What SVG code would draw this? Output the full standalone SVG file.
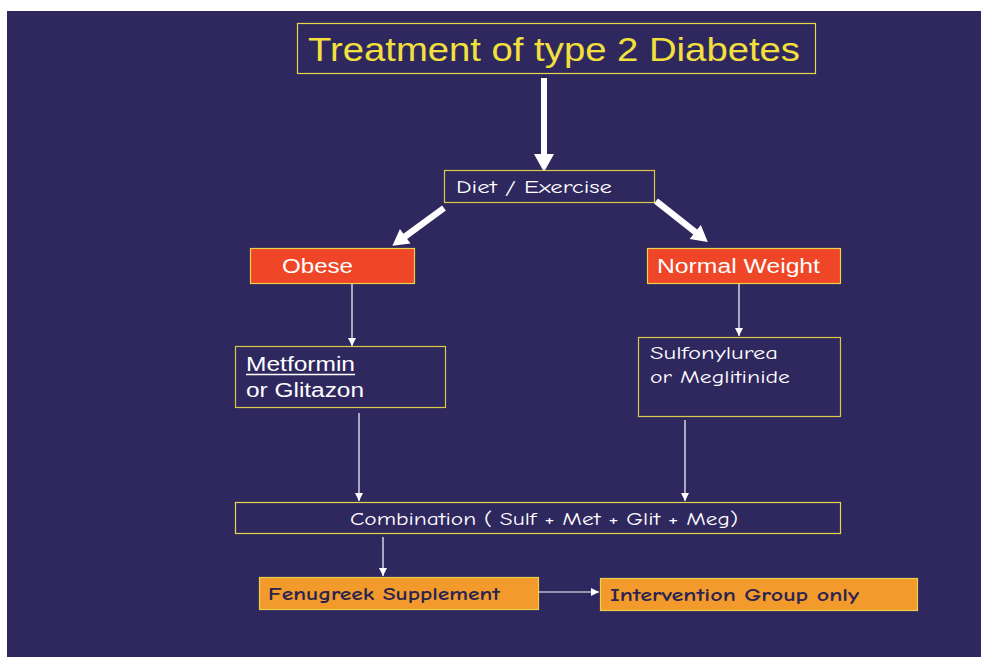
<svg xmlns="http://www.w3.org/2000/svg" width="981" height="657" viewBox="0 0 981 657">
  <style>
    .box { fill: #2f285f; stroke: #d9c948; stroke-width: 1.2; }
    .red { fill: #ef4628; stroke: #e8d34a; stroke-width: 1.2; }
    .orange { fill: #f39a2d; stroke: #e8d34a; stroke-width: 1.2; }
    .title { font-family: "Liberation Sans", Arial, sans-serif; font-size: 33px; fill: #f4e03c; }
    .sans { font-family: "Liberation Sans", Arial, sans-serif; font-size: 20px; fill: #ffffff; }
    .comic { font-family: "Comic Sans MS", "Comic Neue", "DejaVu Sans", sans-serif; font-size: 19px; fill: #ffffff; }
    .comicb { font-family: "Comic Sans MS", "Comic Neue", "DejaVu Sans", sans-serif; font-size: 19px; font-weight: bold; fill: #2a2350; }
    .thin { stroke: #ffffff; stroke-width: 1.2; fill: none; marker-end: url(#small); }
    .thick { fill: #ffffff; }
  </style>
  <defs>
    <marker id="small" viewBox="0 0 10 10" refX="10" refY="5" markerWidth="8" markerHeight="8" markerUnits="userSpaceOnUse" orient="auto">
      <path d="M0,0 L10,5 L0,10 z" fill="#ffffff"/>
    </marker>
  </defs>

  <!-- page background -->
  <rect x="0" y="0" width="981" height="657" fill="#ffffff"/>
  <rect x="7" y="11" width="974" height="646" fill="#2f285f"/>

  <!-- connectors -->
  <g id="connectors">
    <!-- heavy arrows -->
    <path class="thick" d="M541,78 L547,78 L547,154 L554,154 L544,172 L534,154 L541,154 z"/>
    <g transform="translate(444,208) rotate(143.8)">
      <path class="thick" d="M0,-3.2 L48,-3.2 L48,-9 L64,0 L48,9 L48,3.2 L0,3.2 z"/>
    </g>
    <g transform="translate(656,201) rotate(38.3)">
      <path class="thick" d="M0,-3.2 L50,-3.2 L50,-9 L66,0 L50,9 L50,3.2 L0,3.2 z"/>
    </g>
    <!-- thin arrows -->
    <line class="thin" x1="352" y1="284" x2="352" y2="346"/>
    <line class="thin" x1="739" y1="284" x2="739" y2="336"/>
    <line class="thin" x1="359" y1="413" x2="359" y2="501"/>
    <line class="thin" x1="685" y1="420" x2="685" y2="501"/>
    <line class="thin" x1="383" y1="537" x2="383" y2="576"/>
    <line class="thin" x1="539" y1="592" x2="599" y2="592"/>
  </g>

  <g id="title">
    <rect class="box" x="297.5" y="23.5" width="518" height="50" style="stroke:#e9d84a"/>
    <text class="title" x="308" y="61" textLength="492" lengthAdjust="spacingAndGlyphs">Treatment of type 2 Diabetes</text>
  </g>

  <g id="diet">
    <rect class="box" x="444.5" y="170.5" width="210" height="32"/>
    <text class="comic" x="456" y="193" textLength="156" lengthAdjust="spacingAndGlyphs">Diet / Exercise</text>
  </g>

  <g id="obese">
    <rect class="red" x="250.5" y="248.5" width="164" height="35"/>
    <text class="sans" x="282" y="273" textLength="71" lengthAdjust="spacingAndGlyphs">Obese</text>
  </g>

  <g id="normal">
    <rect class="red" x="647.5" y="248.5" width="193" height="35"/>
    <text class="sans" x="657" y="273" textLength="163" lengthAdjust="spacingAndGlyphs">Normal Weight</text>
  </g>

  <g id="metformin">
    <rect class="box" x="235.5" y="346.5" width="210" height="61"/>
    <text class="sans" x="246" y="371" textLength="109" lengthAdjust="spacingAndGlyphs">Metformin</text>
    <line x1="246" y1="374.5" x2="355" y2="374.5" stroke="#ffffff" stroke-width="1.3"/>
    <text class="sans" x="246" y="397" textLength="118" lengthAdjust="spacingAndGlyphs">or Glitazon</text>
  </g>

  <g id="sulfonylurea">
    <rect class="box" x="638.5" y="337.5" width="202" height="79"/>
    <text class="comic" x="650" y="359" textLength="128" lengthAdjust="spacingAndGlyphs">Sulfonylurea</text>
    <text class="comic" x="650" y="383" textLength="140" lengthAdjust="spacingAndGlyphs">or Meglitinide</text>
  </g>

  <g id="combination">
    <rect class="box" x="235.5" y="502.5" width="605" height="31" style="stroke:#e6d84a"/>
    <text class="comic" x="350" y="525" textLength="388" lengthAdjust="spacingAndGlyphs">Combination ( Sulf + Met + Glit + Meg)</text>
  </g>

  <g id="fenugreek">
    <rect class="orange" x="259.5" y="577.5" width="279" height="32"/>
    <text class="comicb" x="268" y="600" textLength="232" lengthAdjust="spacingAndGlyphs">Fenugreek Supplement</text>
  </g>

  <g id="intervention">
    <rect class="orange" x="600.5" y="578.5" width="317" height="32"/>
    <text class="comicb" x="610" y="601" textLength="249" lengthAdjust="spacingAndGlyphs">Intervention Group only</text>
  </g>
</svg>
